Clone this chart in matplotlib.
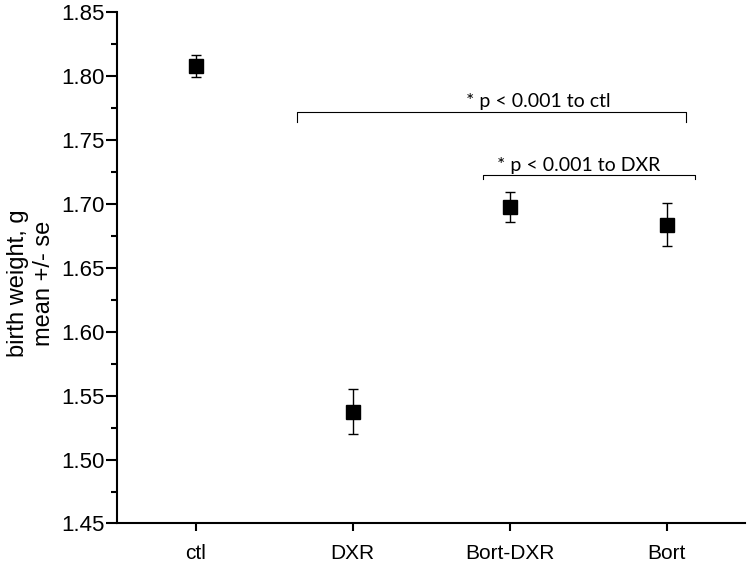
import numpy as np
import matplotlib.pyplot as plt

groups = ['ctl', 'DXR', 'Bort-DXR', 'Bort']
means = [1.808, 1.5375, 1.698, 1.684]
se = [0.0087, 0.0178, 0.0118, 0.0166]

fig = plt.figure(figsize=(7.53, 5.65), dpi=100)
ax = fig.add_axes([0.1554, 0.0735, 0.8346, 0.9044])

x = np.arange(len(groups))
ax.errorbar(x, means, yerr=se, fmt='s', color='black', ms=10,
            ecolor='black', elinewidth=1, capsize=3.5, capthick=1)

ax.set_xlim(-0.5, 3.5)
ax.set_ylim(1.45, 1.85)
ax.set_xticks(x)
ax.set_xticklabels(groups, fontsize=15, family='Liberation Sans')
ax.set_yticks(np.arange(1.45, 1.851, 0.05))
ax.set_yticklabels(['%.2f' % v for v in np.arange(1.45, 1.851, 0.05)],
                   fontsize=16, family='Liberation Sans')
ax.set_yticks(np.arange(1.475, 1.85, 0.05), minor=True)
ax.tick_params(axis='y', which='major', length=8, width=1.5, pad=1)
ax.tick_params(axis='y', which='minor', length=4, width=1.5)
ax.tick_params(axis='x', length=6, width=1.5, pad=9)
ax.spines['top'].set_visible(False)
ax.spines['right'].set_visible(False)
ax.spines['left'].set_linewidth(1.5)
ax.spines['bottom'].set_linewidth(1.5)
ax.set_ylabel('birth weight, g\nmean +/- se', fontsize=17,
              family='Liberation Sans', linespacing=1.25)
ax.yaxis.set_label_coords(-0.098, 0.47)

# significance brackets
def bracket(x0, x1, y, tip, label, tx):
    ax.plot([x0, x0, x1, x1], [y - tip, y, y, y - tip], color='black', lw=0.8)
    ax.text(tx, y + 0.001, label, ha='center', va='bottom', fontsize=14,
            family='Lato')

bracket(0.647, 3.12, 1.7723, 0.008, '* p < 0.001 to ctl', 2.18)
bracket(1.832, 3.18, 1.7228, 0.0035, '* p < 0.001 to DXR', 2.44)

fig.savefig('out.png', dpi=100)
